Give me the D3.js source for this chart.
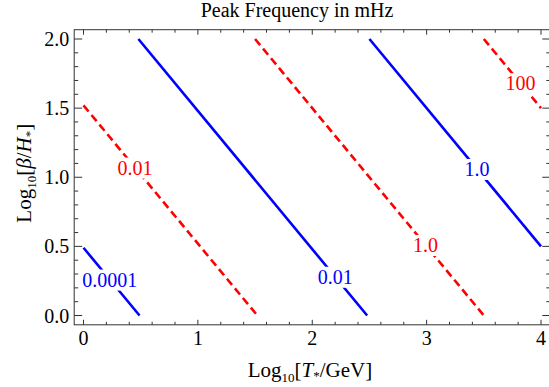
<!DOCTYPE html>
<html>
<head>
<meta charset="utf-8">
<script src="https://cdn.jsdelivr.net/npm/d3@7"></script>
<style>
  body { margin: 0; background: #fff; }
  svg { font-family: "Liberation Serif", "DejaVu Serif", serif; }
</style>
</head>
<body>
<div id="chart"></div>
<script>
// contour levels, as value of log10(T) + log10(beta/H) along each line
const levels = [0.49, 1.52, 2.48, 3.5, 4.5, 5.5];
const levelLabels = ['0.0001', '0.01', '0.01', '1.0', '1.0', '100'];
const levelKinds = ['solid', 'dashed', 'solid', 'dashed', 'solid', 'dashed'];
// where along x each contour label sits
const labelX = [0.23, 0.45, 2.2, 2.99, 3.44, 3.82];

const xTicks = [0, 1, 2, 3, 4];
const yTicks = [0, 0.5, 1, 1.5, 2];

const width = 549;
const height = 387;

const x = d3.scaleLinear().domain([0, 4]).range([83.5, 541]);
const y = d3.scaleLinear().domain([0, 2]).range([315.5, 39]);
const pad = 9.3;
const fLeft = x.range()[0] - pad, fRight = x.range()[1] + pad;
const fTop = y.range()[1] - pad, fBottom = y.range()[0] + pad;

const svg = d3.select('#chart')
  .append('svg')
  .attr('width', width)
  .attr('height', height);

svg.append('defs').append('clipPath').attr('id', 'clip')
  .append('rect')
  .attr('x', fLeft).attr('y', fTop)
  .attr('width', fRight - fLeft).attr('height', fBottom - fTop);

const plot = svg.append('g').attr('clip-path', 'url(#clip)');

const line = d3.line().x(d => x(d[0])).y(d => y(d[1]));

// contour lines
levels.forEach((c, i) => {
  const x0 = Math.max(0, c - 2), x1 = Math.min(4, c);
  const pts = [[x0, c - x0], [x1, c - x1]];
  const dashed = levelKinds[i] === 'dashed';
  plot.append('path')
    .attr('d', line(pts))
    .attr('fill', 'none')
    .attr('stroke', dashed ? '#ff0000' : '#0000ff')
    .attr('stroke-width', 2.6)
    .attr('stroke-dasharray', dashed ? '8,4.5' : null);
});

// contour labels with white knock-out behind
levels.forEach((c, i) => {
  const dashed = levelKinds[i] === 'dashed';
  const lx = labelX[i], ly = c - lx;
  const g = plot.append('g');
  const t = g.append('text')
    .attr('x', x(lx))
    .attr('y', y(ly))
    .attr('dy', '0.35em')
    .attr('text-anchor', 'middle')
    .attr('font-size', 20)
    .attr('fill', dashed ? '#ff0000' : '#0000ff')
    .text(levelLabels[i]);
  const bb = t.node().getBBox();
  g.insert('rect', 'text')
    .attr('x', bb.x - 1)
    .attr('y', bb.y + 1)
    .attr('width', bb.width + 2)
    .attr('height', bb.height - 1)
    .attr('fill', '#fff');
});

// frame
svg.append('rect')
  .attr('x', fLeft).attr('y', fTop)
  .attr('width', fRight - fLeft).attr('height', fBottom - fTop)
  .attr('fill', 'none')
  .attr('stroke', '#333')
  .attr('stroke-width', 1);

const tickColor = '#333';
const xMinor = d3.range(0, 4.001, 0.2);
const yMinor = d3.range(0, 2.001, 0.1);
const isMajor = (v, list) => list.some(m => Math.abs(m - v) < 1e-6);

// ticks on all four sides, pointing inward
xMinor.forEach(v => {
  const len = isMajor(v, xTicks) ? 5 : 3;
  svg.append('line')
    .attr('x1', x(v)).attr('x2', x(v))
    .attr('y1', fBottom).attr('y2', fBottom - len)
    .attr('stroke', tickColor);
  svg.append('line')
    .attr('x1', x(v)).attr('x2', x(v))
    .attr('y1', fTop).attr('y2', fTop + len)
    .attr('stroke', tickColor);
});
yMinor.forEach(v => {
  const len = isMajor(v, yTicks) ? 8 : 4;
  svg.append('line')
    .attr('x1', fLeft).attr('x2', fLeft + len)
    .attr('y1', y(v)).attr('y2', y(v))
    .attr('stroke', tickColor);
  svg.append('line')
    .attr('x1', fRight).attr('x2', fRight - len)
    .attr('y1', y(v)).attr('y2', y(v))
    .attr('stroke', tickColor);
});

// tick labels
svg.append('g').selectAll('text')
  .data(xTicks).enter().append('text')
  .attr('x', d => x(d))
  .attr('y', fBottom + 20)
  .attr('text-anchor', 'middle')
  .attr('font-size', 20)
  .text(d => d3.format('d')(d));

svg.append('g').selectAll('text')
  .data(yTicks).enter().append('text')
  .attr('x', fLeft - 5)
  .attr('y', d => y(d))
  .attr('dy', '0.35em')
  .attr('text-anchor', 'end')
  .attr('font-size', 20)
  .text(d => d3.format('.1f')(d));

// title
svg.append('text')
  .attr('x', 297)
  .attr('y', 17)
  .attr('text-anchor', 'middle')
  .attr('font-size', 20)
  .text('Peak Frequency in mHz');

// x axis label
const xl = svg.append('text')
  .attr('x', 310)
  .attr('y', 377)
  .attr('text-anchor', 'middle')
  .attr('font-size', 21);
xl.append('tspan').text('Log');
xl.append('tspan').attr('font-size', 13).attr('dy', 5).text('10');
xl.append('tspan').attr('dy', -5).text('[');
xl.append('tspan').attr('font-style', 'italic').text('T');
xl.append('tspan').attr('font-size', 13).attr('dy', 3).text('*');
xl.append('tspan').attr('dy', -3).text('/GeV]');

// y axis label
const yl = svg.append('text')
  .attr('transform', `translate(31,${(fTop + fBottom) / 2 - 4}) rotate(-90)`)
  .attr('text-anchor', 'middle')
  .attr('font-size', 21);
yl.append('tspan').text('Log');
yl.append('tspan').attr('font-size', 13).attr('dy', 5).text('10');
yl.append('tspan').attr('dy', -5).text('[');
yl.append('tspan').attr('font-style', 'italic').text('β');
yl.append('tspan').text('/');
yl.append('tspan').attr('font-style', 'italic').text('H');
yl.append('tspan').attr('font-size', 13).attr('dy', 3).text('*');
yl.append('tspan').attr('dy', -3).text(']');
</script>
</body>
</html>
